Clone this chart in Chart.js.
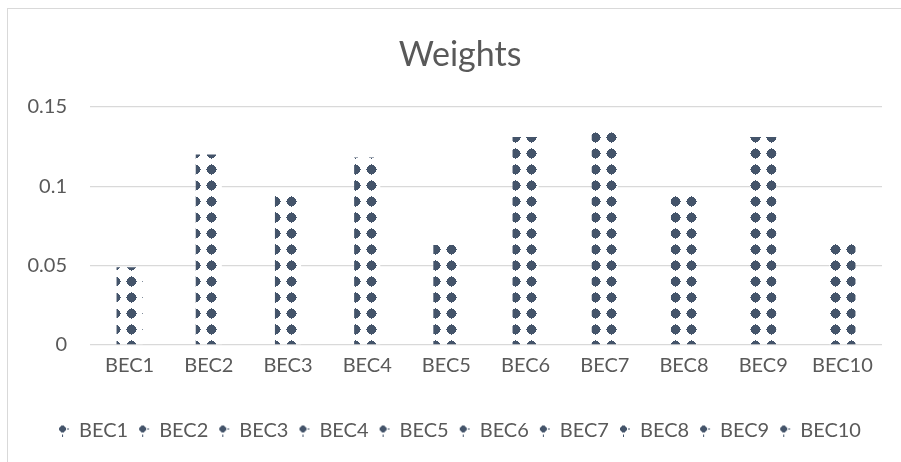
<!DOCTYPE html>
<html>
<head>
<meta charset="utf-8">
<title>Weights</title>
<script src="https://cdn.jsdelivr.net/npm/chart.js@4/dist/chart.umd.min.js"></script>
<style>
  html, body { margin: 0; padding: 0; background: #ffffff; overflow: hidden; }
  #wrap { position: relative; width: 901px; height: 462px; }
  #frame {
    position: absolute; left: 7px; top: 8px; width: 1000px; height: 1000px;
    border-left: 1.5px solid #d9d9d9; border-top: 1.5px solid #d9d9d9;
    box-sizing: border-box;
  }
  #chart { position: absolute; left: 0; top: 0; }
</style>
</head>
<body>
<div id="wrap">
  <div id="frame"></div>
  <canvas id="chart" width="901" height="462"></canvas>
</div>
<script>
// Criteria and their weights
const categories = ['BEC1', 'BEC2', 'BEC3', 'BEC4', 'BEC5', 'BEC6', 'BEC7', 'BEC8', 'BEC9', 'BEC10'];
const weights = [0.049, 0.12, 0.094, 0.118, 0.063, 0.131, 0.134, 0.094, 0.131, 0.066];
const yTicks = [0, 0.05, 0.1, 0.15];

const INK = '#44546A';
const TEXT = '#595959';
const GRID = '#d9d9d9';
const FONT = 'Lato, "Open Sans", sans-serif';

// One studded diamond, centred on pixel (cx, cy)
function stud(t, cx, cy) {
  for (let j = -5; j <= 5; j++) {
    for (let i = -5; i <= 5; i++) {
      const dx = Math.abs(i), dy = Math.abs(j);
      const body = dx <= 4 && dy <= 4 && dx + dy <= 6;
      const nub = (dx === 0 && dy <= 5) || (dy === 0 && dx <= 5);
      if (body || nub) t.fillRect(cx + i, cy + j, 1, 1);
    }
  }
}

// Diamond fill pattern on a white ground
function makePattern(ctx) {
  const tile = document.createElement('canvas');
  tile.width = 16; tile.height = 16;
  const t = tile.getContext('2d');
  t.fillStyle = '#ffffff';
  t.fillRect(0, 0, 16, 16);
  t.fillStyle = INK;
  stud(t, 8, 8);
  const p = ctx.createPattern(tile, 'repeat');
  p.setTransform(new DOMMatrix().translate(-5, 1));
  return p;
}

// Small legend marker: a stud with two trailing dots
function makeMarker() {
  const c = document.createElement('canvas');
  c.width = 12; c.height = 12;
  const t = c.getContext('2d');
  t.fillStyle = INK;
  for (let j = -3; j <= 3; j++) {
    for (let i = -3; i <= 3; i++) {
      const dx = Math.abs(i), dy = Math.abs(j);
      if (dx + dy <= 4 && !(dx === 3 && dy === 3)) t.fillRect(4 + i, 4 + j, 1, 1);
    }
  }
  t.fillRect(9, 4, 2, 1);
  t.fillRect(4, 10, 1, 2);
  return c;
}

const canvas = document.getElementById('chart');
const ctx = canvas.getContext('2d');
const pattern = makePattern(ctx);
const marker = makeMarker();

new Chart(ctx, {
  type: 'bar',
  data: {
    labels: categories,
    datasets: [{
      label: 'Weights',
      data: weights,
      backgroundColor: pattern,
      borderWidth: 0,
      barPercentage: 0.33,
      categoryPercentage: 1.0
    }]
  },
  options: {
    responsive: false,
    animation: false,
    events: [],
    layout: { padding: { left: 19, right: 0, top: 0, bottom: 11.5 } },
    plugins: {
      tooltip: { enabled: false },
      title: {
        display: true,
        text: 'Weights',
        color: TEXT,
        font: { family: FONT, size: 34, weight: 'normal', lineHeight: 1.2 },
        padding: { top: 35, bottom: 31 }
      },
      legend: {
        display: true,
        position: 'bottom',
        labels: {
          color: TEXT,
          font: { family: FONT, size: 20 },
          usePointStyle: true,
          boxWidth: 10,
          boxHeight: 10,
          padding: 11,
          generateLabels: (chart) => chart.data.labels.map((lab, i) => ({
            text: lab,
            fillStyle: INK,
            strokeStyle: 'rgba(0,0,0,0)',
            lineWidth: 0,
            pointStyle: marker,
            fontColor: TEXT,
            hidden: false,
            index: i,
            datasetIndex: 0
          }))
        }
      }
    },
    scales: {
      x: {
        grid: { display: false, drawTicks: false },
        border: { display: false },
        ticks: { color: TEXT, font: { family: FONT, size: 20 }, padding: 9, maxRotation: 0 },
        afterFit: (s) => { s.height = 64.5; }
      },
      y: {
        min: 0,
        max: 0.15,
        afterBuildTicks: (s) => { s.ticks = yTicks.map(v => ({ value: v })); },
        grid: { color: GRID, lineWidth: 1.3, drawTicks: false },
        border: { display: false },
        ticks: {
          color: TEXT,
          font: { family: FONT, size: 20 },
          padding: 23,
          callback: (v) => String(Number(v.toFixed(2)))
        },
        afterFit: (s) => { s.width = 71; }
      },
      spacer: {
        position: 'right',
        display: true,
        grid: { display: false },
        border: { display: false },
        ticks: { display: false },
        afterFit: (s) => { s.width = 19; }
      }
    }
  }
});
</script>
</body>
</html>
